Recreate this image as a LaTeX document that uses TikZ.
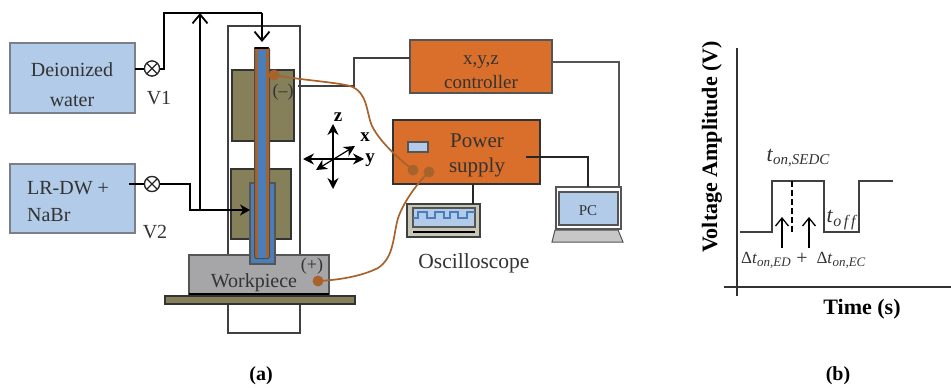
\documentclass[tikz,border=0pt]{standalone}
\usepackage{fontspec}
\setmainfont{Liberation Serif}
\usetikzlibrary{arrows.meta}
\definecolor{boxblue}{HTML}{B1CBE8}
\definecolor{tubeblue}{HTML}{4A7EBB}
\definecolor{orng}{HTML}{D96F2B}
\definecolor{olive}{HTML}{85805A}
\definecolor{wpgray}{HTML}{A6A6A9}
\definecolor{wire}{HTML}{A8622C}
\definecolor{ink}{HTML}{333333}
\definecolor{edge}{HTML}{555555}
\definecolor{softedge}{HTML}{7A7F88}
\newcommand{\fs}[1]{\fontsize{#1}{#1}\selectfont}
\newcommand{\tsub}[3]{\textit{#1}\raisebox{-3.5pt}{\fs{#3}\textit{#2}}}
\tikzset{
  x=1pt,y=-1pt,
  rect/.style={draw=#1,line width=1.3pt,inner sep=0pt,outer sep=0pt},
  label text/.style={inner sep=0pt,text=ink,align=center,font=\fs{19}},
  bold text/.style={inner sep=0pt,text=black,font=\fs{22}\bfseries},
  pipe/.style={draw=black,line width=2pt},
  signal/.style={draw=edge,line width=1.4pt},
  lead/.style={draw=wire,line width=1.7pt},
  dot/.style={circle,fill=wire,minimum size=11pt,inner sep=0pt},
  barb/.style={-{Straight Barb[length=9pt,width=15pt,line width=1.8pt]}},
  valve/.style={circle,draw=black!85,fill=white,line width=1.2pt,minimum size=15pt,inner sep=0pt,
    path picture={\draw[line width=1.1pt] (path picture bounding box.north west)--(path picture bounding box.south east)
      (path picture bounding box.north east)--(path picture bounding box.south west);}},
  axisarrow/.style={draw=black,line width=1.2pt,{Stealth[length=11pt,width=11pt]}-{Stealth[length=11pt,width=11pt]}},
}
\begin{document}
\begin{tikzpicture}
\path[use as bounding box] (0,0) rectangle (951,388);

% frame and holders
\node[rect=black!75,anchor=north west,minimum width=72pt,minimum height=307pt] (frame) at (228,26) {};
\node[rect=black!80,fill=olive,anchor=north west,minimum width=62pt,minimum height=71pt] (upper) at (232,70) {};
\node[rect=black!80,fill=olive,anchor=north west,minimum width=60pt,minimum height=70pt] (lower) at (231,169) {};
\node[rect=edge,fill=wpgray,anchor=north west,minimum width=140pt,minimum height=39pt] (work) at (189,255) {};
\draw[black,line width=1.6pt] (work.south west) -- (work.south east);
\node[rect=black!80,fill=olive,anchor=north west,minimum width=190pt,minimum height=8pt] (plate) at (165,296) {};

% tubes
\node[rect=edge,fill=tubeblue,anchor=north west,minimum width=25pt,minimum height=81pt] (outer) at (250,183) {};
\node[draw=black!70,line width=1pt,fill=wire,rounded corners=1.5pt,inner sep=0pt,anchor=north west,minimum width=15pt,minimum height=211pt] (brown) at (254,47) {};
\node[fill=tubeblue,inner sep=0pt,anchor=north west,minimum width=8pt,minimum height=208pt] (inner) at (258,49.5) {};
\coordinate (capL) at (255,48); \coordinate (capR) at (268,48);
\draw[black,line width=2pt,line cap=round] (capL) -- (capR);

% supply boxes
\node[rect=softedge,fill=boxblue,anchor=north west,minimum width=125pt,minimum height=70pt] (di) at (10,43) {};
\node[rect=softedge,fill=boxblue,anchor=north west,minimum width=125pt,minimum height=69pt] (lr) at (10,164) {};
\node[label text,font=\fs{20}] (ditext) at (72,85) {Deionized\\[10pt]water};
\node[label text,font=\fs{20},align=left] (lrtext) at (68,201.5) {LR-DW +\\[7pt]NaBr};
\node[valve] (v1) at (152,68.5) {};
\node[valve] (v2) at (152,184) {};
\node[label text,font=\fs{20}] (v1text) at (159,98) {V1};
\node[label text,font=\fs{20}] (v2text) at (155,232) {V2};

% water pipes
\coordinate (a1) at (164,68.5); \coordinate (a2) at (164,13); \coordinate (a3) at (262,13); \coordinate (a4) at (262,42);
\coordinate (b0) at (129,184); \coordinate (b1) at (190,184); \coordinate (b2) at (190,210); \coordinate (b3) at (250,210);
\coordinate (c0) at (200,210); \coordinate (c1) at (200,13);
\draw[pipe] (di.east |- v1) -- (v1);
\draw[pipe] (v1) -- (a1) -- (a2) -- (a3);
\draw[pipe,barb] (a3) -- (a4);
\draw[pipe] (b0) -- (v2);
\draw[pipe] (v2) -- (b1) -- (b2) -- (c0);
\draw[pipe,-{Stealth[length=10pt,width=11pt]}] (c0) -- (b3);
\draw[pipe,barb] (c0) -- (c1);
\node[valve] at (v1) {};
\node[valve] at (v2) {};

% instruments
\node[rect=edge,fill=orng,anchor=north west,minimum width=142pt,minimum height=53pt] (ctrl) at (410,40) {};
\node[label text,font=\fs{19}] (ctrltext) at (481,72) {x,y,z\\[5pt]controller};
\node[rect=black!80,fill=orng,anchor=north west,minimum width=147pt,minimum height=64pt] (power) at (393,120) {};
\node[label text,font=\fs{21}] (powertext) at (477,155) {Power\\[4pt]supply};
\node[rect=edge,fill=boxblue,anchor=north west,minimum width=20pt,minimum height=10pt] (meter) at (408,142) {};
\node[rect=black!75,fill=olive!45,anchor=north west,minimum width=73pt,minimum height=33pt] (osc) at (407,204) {};
\node[rect=edge,fill=boxblue,anchor=north west,minimum width=62pt,minimum height=19pt] (screen) at (413,208) {};
\coordinate (oscL) at (413,232); \coordinate (oscR) at (475,232);
\draw[black,line width=1.4pt] (oscL) -- (oscR);
\coordinate (w0) at (413,218);
\draw[tubeblue,line width=1.3pt] (w0) -- ++(5,0) -- ++(0,-6) -- ++(9,0) -- ++(0,6) -- ++(8,0) -- ++(0,-6) -- ++(9,0) -- ++(0,6) -- ++(6,0) -- ++(0,-6) -- ++(8,0) -- ++(0,6) -- ++(9,0) -- ++(0,-6) -- ++(8,0);
\node[label text,font=\fs{21.5}] (osctext) at (474,263) {Oscilloscope};

\node[rect=edge,fill=white,anchor=north west,minimum width=65pt,minimum height=42pt] (pc) at (556,187) {};
\node[rect=edge,fill=boxblue,anchor=north west,minimum width=59pt,minimum height=33pt] (pcscreen) at (559,192) {};
\node[label text,font=\fs{15}] (pctext) at (588,211) {PC};
\coordinate (k1) at (555,230); \coordinate (k2) at (618,230); \coordinate (k3) at (623,242); \coordinate (k4) at (552,242);
\draw[edge,fill=black!22,line width=1pt] (k1) -- (k2) -- (k3) -- (k4) -- cycle;

% signal lines
\coordinate (s0) at (298,86); \coordinate (s1) at (354,86); \coordinate (s2) at (354,58);
\draw[signal,draw=black!75] (s0) -- (s1) -- (s2) -- (s2 -| ctrl.west);
\coordinate (s3) at (552,62); \coordinate (s4) at (619,62);
\draw[signal] (s3) -- (s4) -- (s4 |- pc.north);
\coordinate (p0) at (526,157); \coordinate (p1) at (588,157);
\draw[signal,draw=black!85] (p0) -- (p1) -- (p1 |- pc.north);
\coordinate (p2) at (473,184);
\draw[signal,draw=black!85] (p2) -- (p2 |- osc.north);

% workpiece and electrode labels
\node[label text,font=\fs{20}] (wptext) at (254,283) {Workpiece};
\node[label text,font=\fs{18}] (plus) at (312,266) {(+)};
\node[label text,font=\fs{18}] (minus) at (283,92) {(–)};

% leads
\coordinate (d1c) at (274,75); \coordinate (d2c) at (413,170); \coordinate (d3c) at (429,172); \coordinate (d4c) at (318,281);
\draw[lead] (d1c) .. controls (300,80) and (335,82) .. (350,86)
  .. controls (368,92) and (366,112) .. (372,126)
  .. controls (380,142) and (398,158) .. (d2c);
\draw[lead] (d3c) .. controls (415,185) and (400,208) .. (397,222)
  .. controls (393,240) and (393,258) .. (378,268)
  .. controls (362,276) and (340,280) .. (d4c);
\node[dot] (d1) at (d1c) {};
\node[dot] (d2) at (d2c) {};
\node[dot] (d3) at (d3c) {};
\node[dot] (d4) at (d4c) {};

% xyz axes
\coordinate (zt) at (333,124); \coordinate (zb) at (333,189);
\coordinate (yl) at (303,159); \coordinate (yr) at (364,159);
\coordinate (xa) at (355,146); \coordinate (xb) at (316,170);
\draw[axisarrow] (zb) -- (zt);
\draw[axisarrow] (yl) -- (yr);
\draw[axisarrow] (xb) -- (xa);
\node[bold text,font=\fs{19}\bfseries] (zl) at (338,117) {z};
\node[bold text,font=\fs{19}\bfseries] (xl) at (365,137) {x};
\node[bold text,font=\fs{19}\bfseries] (yl2) at (370,160) {y};

\node[bold text,font=\fs{20}\bfseries] (capa) at (261,376) {(a)};
\node[bold text,font=\fs{20}\bfseries] (capb) at (838,376) {(b)};

% plot
\coordinate (yt) at (737,48); \coordinate (yb) at (737,296);
\coordinate (xl1) at (724,287); \coordinate (xr1) at (951,287);
\draw[black!80,line width=1.5pt] (yb) -- (yt);
\draw[black!80,line width=1.5pt] (xl1) -- (xr1);
\coordinate (q0) at (740,232); \coordinate (q1) at (772,232); \coordinate (q2) at (772,181);
\coordinate (q3) at (824,181); \coordinate (q4) at (824,232); \coordinate (q5) at (859,232);
\coordinate (q6) at (859,181); \coordinate (q7) at (893,181);
\draw[black!75,line width=1.7pt] (q0)--(q1)--(q2)--(q3)--(q4)--(q5)--(q6)--(q7);
\coordinate (m1) at (792,181); \coordinate (m2) at (792,232);
\draw[black,line width=1.2pt,dash pattern=on 6pt off 3pt] (m1) -- (m2);
\coordinate (r1) at (782,248); \coordinate (r2) at (782,217);
\coordinate (r3) at (809,248); \coordinate (r4) at (809,217);
\draw[black,line width=1.3pt,-{Straight Barb[length=8pt,width=13pt,line width=1.3pt]}] (r1) -- (r2);
\draw[black,line width=1.3pt,-{Straight Barb[length=8pt,width=13pt,line width=1.3pt]}] (r3) -- (r4);

\node[bold text] (ylab) at (712,147) [rotate=90] {Voltage Amplitude (V)};
\node[bold text] (xlab) at (862,309) {Time (s)};
\node[label text,font=\fs{22}] (ton) at (798,158) {\tsub{t}{on,SEDC}{15}};
\node[label text,font=\fs{22}] (toff) at (842,220) {\tsub{t}{o\,f\,f}{16}};
\node[label text,font=\fs{17}] (d1t) at (766,260) {Δ\textit{t}\raisebox{-3pt}{\fs{13}\textit{on,ED}}};
\node[label text,font=\fs{20}] (pl) at (802,259) {+};
\node[label text,font=\fs{17}] (d2t) at (841,260) {Δ\textit{t}\raisebox{-3pt}{\fs{13}\textit{on,EC}}};
\end{tikzpicture}
\end{document}
